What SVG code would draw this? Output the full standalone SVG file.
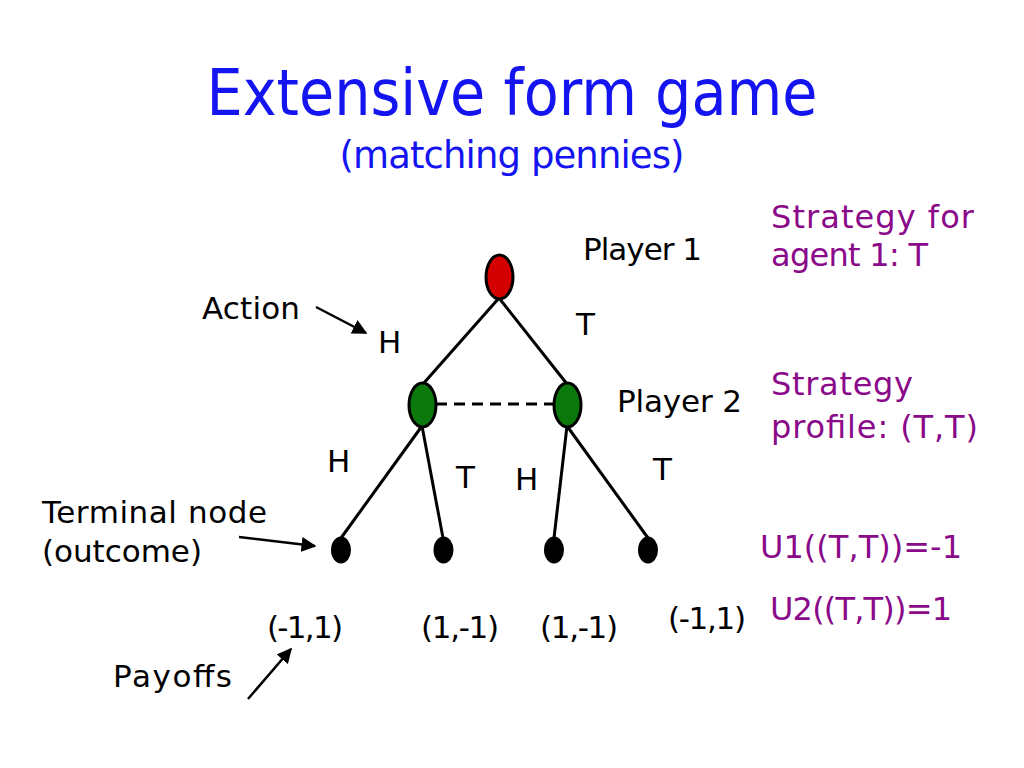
<svg xmlns="http://www.w3.org/2000/svg" width="1024" height="768" viewBox="0 0 1024 768">
<defs>
<style>
text{font-family:"DejaVu Sans","Liberation Sans",sans-serif;fill:#000}
.t{font-size:31px}
.p{font-size:32px;fill:#8a0a8a}
.title{fill:#1414f0}
.edge{stroke:#000;stroke-width:3;fill:none}
.ann{stroke:#000;stroke-width:2.5;fill:none}
.dec{stroke:#000;stroke-width:3}
</style>
<marker id="ah" viewBox="0 0 10 10" refX="9" refY="5" markerWidth="6" markerHeight="6" orient="auto" markerUnits="strokeWidth">
<path d="M0,0 L10,5 L0,10 z" fill="#000"/>
</marker>
</defs>
<rect width="1024" height="768" fill="#fff"/>
<g id="title">
<text class="title" x="512" y="115" font-size="64" text-anchor="middle" textLength="611" lengthAdjust="spacingAndGlyphs">Extensive form game</text>
<text class="title" x="512" y="168" font-size="37" text-anchor="middle" textLength="345">(matching pennies)</text>
</g>
<g id="connectors">
<line class="edge" x1="499" y1="298" x2="423" y2="384"/>
<line class="edge" x1="499" y1="298" x2="567" y2="384"/>
<line class="edge" x1="422" y1="426" x2="341" y2="538"/>
<line class="edge" x1="422" y1="426" x2="443" y2="538"/>
<line class="edge" x1="567" y1="426" x2="554" y2="538"/>
<line class="edge" x1="567" y1="426" x2="648" y2="538"/>
<line x1="436" y1="404" x2="554" y2="404" stroke="#000" stroke-width="3" stroke-dasharray="11,7"/>
<line class="ann" x1="316" y1="307" x2="366" y2="333" marker-end="url(#ah)"/>
<line class="ann" x1="239" y1="537" x2="315" y2="546" stroke-width="3.5" marker-end="url(#ah)"/>
<line class="ann" x1="248" y1="699" x2="291" y2="649" marker-end="url(#ah)"/>
</g>
<g id="root"><ellipse class="dec" cx="499.5" cy="277" rx="13.5" ry="22" fill="#d40000"/></g>
<g id="p2left"><ellipse class="dec" cx="422.5" cy="405" rx="13.5" ry="22" fill="#0a780a"/></g>
<g id="p2right"><ellipse class="dec" cx="567.5" cy="405" rx="13.5" ry="22" fill="#0a780a"/></g>
<g id="term1"><ellipse cx="341" cy="550" rx="10" ry="13.5" fill="#000"/></g>
<g id="term2"><ellipse cx="443.5" cy="550" rx="10" ry="13.5" fill="#000"/></g>
<g id="term3"><ellipse cx="554" cy="550" rx="10" ry="13.5" fill="#000"/></g>
<g id="term4"><ellipse cx="648" cy="550" rx="10" ry="13.5" fill="#000"/></g>
<g id="labels">
<text class="t" x="583" y="260" textLength="119">Player 1</text>
<text class="t" x="617" y="412" textLength="125">Player 2</text>
<text class="t" x="202" y="319" textLength="98">Action</text>
<text class="t" x="42" y="523" textLength="225">Terminal node</text>
<text class="t" x="42" y="562" textLength="160">(outcome)</text>
<text class="t" x="113" y="687" textLength="119">Payoffs</text>
<text class="t" x="378" y="353">H</text>
<text class="t" x="576" y="335">T</text>
<text class="t" x="327" y="472">H</text>
<text class="t" x="456" y="488">T</text>
<text class="t" x="515" y="490">H</text>
<text class="t" x="653" y="480">T</text>
<text class="t" x="267" y="638" textLength="76">(-1,1)</text>
<text class="t" x="421" y="638" textLength="78">(1,-1)</text>
<text class="t" x="540" y="638" textLength="78">(1,-1)</text>
<text class="t" x="668" y="629" textLength="78">(-1,1)</text>
<text class="p" x="771" y="228" textLength="203">Strategy for</text>
<text class="p" x="771" y="266" textLength="157">agent 1: T</text>
<text class="p" x="771" y="395" textLength="142">Strategy</text>
<text class="p" x="771" y="438" textLength="207">profile: (T,T)</text>
<text class="p" x="760" y="558" textLength="202">U1((T,T))=-1</text>
<text class="p" x="770" y="620" textLength="182">U2((T,T))=1</text>
</g>
</svg>
